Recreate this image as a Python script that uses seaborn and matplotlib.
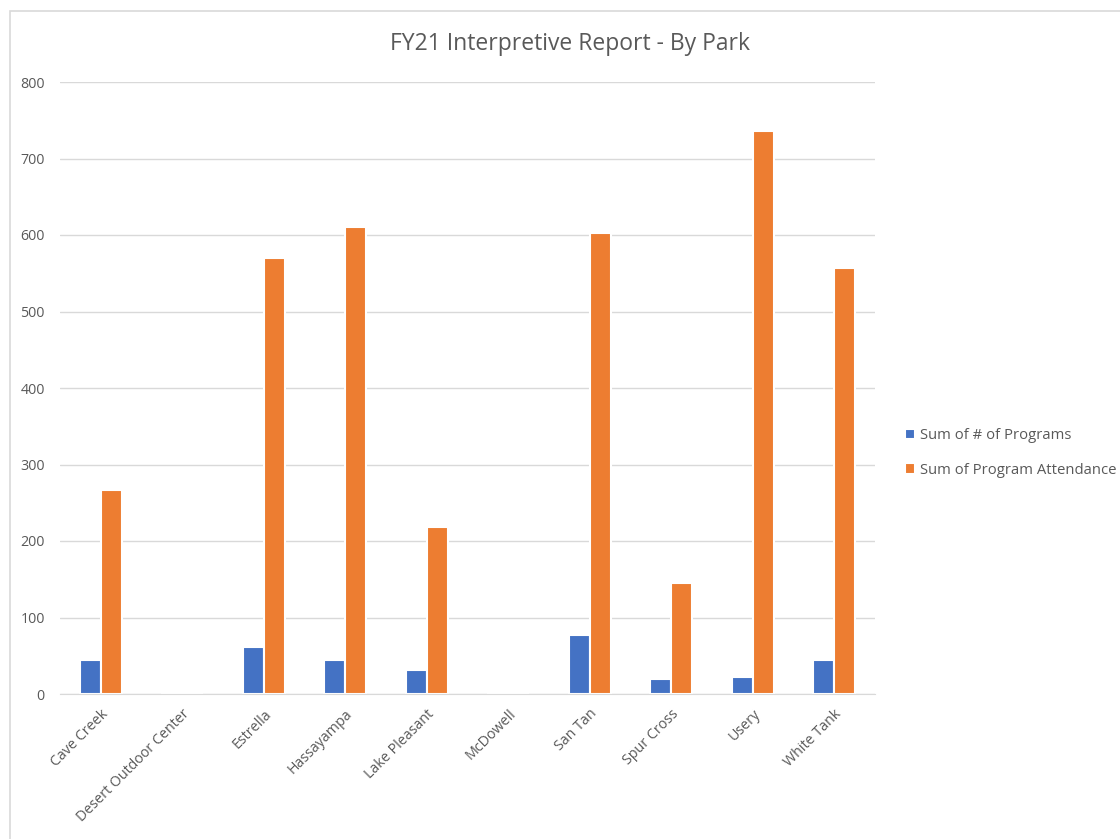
import pandas as pd
import matplotlib.pyplot as plt
from matplotlib.patches import Rectangle
import seaborn as sns

# 数据
parks = ['Cave Creek', 'Desert Outdoor Center', 'Estrella', 'Hassayampa', 'Lake Pleasant',
         'McDowell', 'San Tan', 'Spur Cross', 'Usery', 'White Tank']
programs = [44, 0, 61, 44, 31, 0, 77, 19, 22, 44]
attendance = [267, 0, 570, 610, 218, 0, 602, 145, 736, 557]
series = ['Sum of # of Programs', 'Sum of Program Attendance']
colors = ['#4472C4', '#ED7D31']

df = pd.DataFrame({'Park': parks * 2,
                   'Series': [series[0]] * len(parks) + [series[1]] * len(parks),
                   'Value': programs + attendance})

sns.set_style('white')
plt.rcParams['font.family'] = ['Open Sans', 'DejaVu Sans']
text_c = '#595959'

fig = plt.figure(figsize=(11.2, 8.39), dpi=100)
fig.patches.append(Rectangle((10 / 1120, -0.05), 1.2, 1.05 - 11 / 839, transform=fig.transFigure,
                             fill=False, edgecolor='#D9D9D9', linewidth=1.2))
ax = fig.add_axes([60 / 1120, 1 - 694 / 839, 815 / 1120, 612 / 839])

sns.barplot(data=df, x='Park', y='Value', hue='Series', palette=colors, width=0.52,
            edgecolor='white', linewidth=1.5, ax=ax, saturation=1)

ax.set_ylim(0, 800)
ax.set_yticks(range(0, 801, 100))
ax.grid(axis='y', color='#D9D9D9', linewidth=1)
ax.set_axisbelow(True)
for s in ['top', 'right', 'left']:
    ax.spines[s].set_visible(False)
ax.spines['bottom'].set_color('#D9D9D9')
ax.set_xlabel('')
ax.set_ylabel('')
ax.tick_params(axis='both', length=0, colors=text_c, labelsize=10.3)
ax.tick_params(axis='y', pad=11)
ax.tick_params(axis='x', pad=9)
plt.setp(ax.get_xticklabels(), rotation=45, ha='right', rotation_mode='anchor')

fig.text(570 / 1120, 1 - 44 / 839, 'FY21 Interpretive Report - By Park', ha='center', va='center',
         fontsize=16.5, color=text_c)

ax.legend(title=None, frameon=False, loc='center left', bbox_to_anchor=(1.02, 0.394),
          fontsize=10.7, labelcolor=text_c, handlelength=0.7, handleheight=0.7,
          handletextpad=0.3, labelspacing=1.3)

fig.savefig('out.png', dpi=100)
